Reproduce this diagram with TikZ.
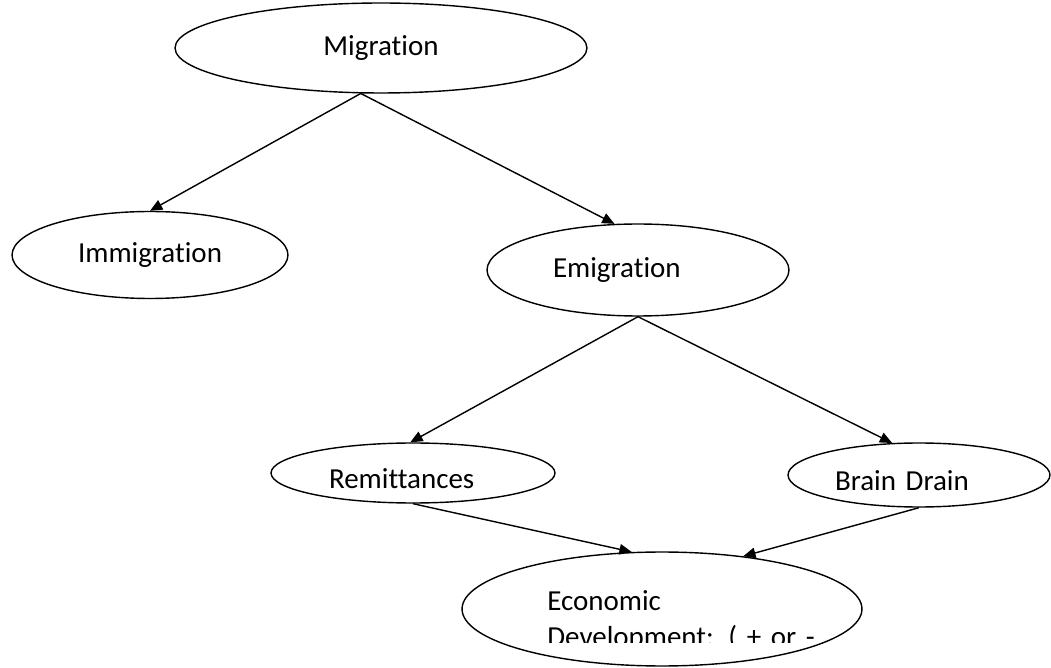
\documentclass[tikz,border=0pt]{standalone}
\usepackage{fontspec}
\setmainfont{Carlito}[Ligatures={NoCommon,NoContextual}, WordSpace=0.7]
\usetikzlibrary{shapes.geometric,arrows.meta}
\tikzset{
  words/.style={font=\fontsize{16.5pt}{20.5pt}\selectfont},
  bubble/.style={ellipse, draw, line width=0.8pt, inner sep=0pt, words},
  lefttext/.style={text width=3.36cm, align=left},
  link/.style={-{Triangle[length=7pt,width=6pt]}, line width=0.8pt}
}
\begin{document}
\begin{tikzpicture}[x=0.02cm,y=-0.02cm]
    \useasboundingbox (0,0) rectangle (1051,668);
    \node[bubble, minimum width=8.24cm, minimum height=1.8cm] (aa) at (381,48) {Migration};
    \node[bubble, minimum width=5.52cm, minimum height=1.74cm] (ba) at (150,255) {Immigration};
    \node[bubble, lefttext, text width=3.4cm, minimum width=6.04cm, minimum height=1.84cm] (bb) at (638,270) {Emigration};
    \node[bubble, lefttext, text height=0.64cm, text depth=0pt, minimum width=5.68cm, minimum height=1.2cm] (ca) at (413,473) {Remittances};
    \node[bubble, lefttext, text height=0.64cm, text depth=0pt, minimum width=5.24cm, minimum height=1.28cm] (cb) at (919,475) {Brain Drain};
    \node[bubble, minimum width=8cm, minimum height=2.28cm] (da) at (662,609) {};
    % text box of the last ellipse is cut off at its bottom
    \begin{scope}
      \clip (540,555) rectangle (815,642);
      \node[words, text width=5.8cm, align=left, inner sep=0pt, anchor=north west] (db) at (547,590) {Economic\\Development: ( + or -};
    \end{scope}
    \draw[link] (aa.246) -- (ba.north);
    \draw[link] (aa.246) -- (bb.117);
    \draw[link] (bb.south) -- (ca.95);
    \draw[link] (bb.south) -- (cb.130);
    \draw[link] (ca.south) -- (da.118);
    \draw[link] (cb.south) -- (da.33);
  \end{tikzpicture}
\end{document}
